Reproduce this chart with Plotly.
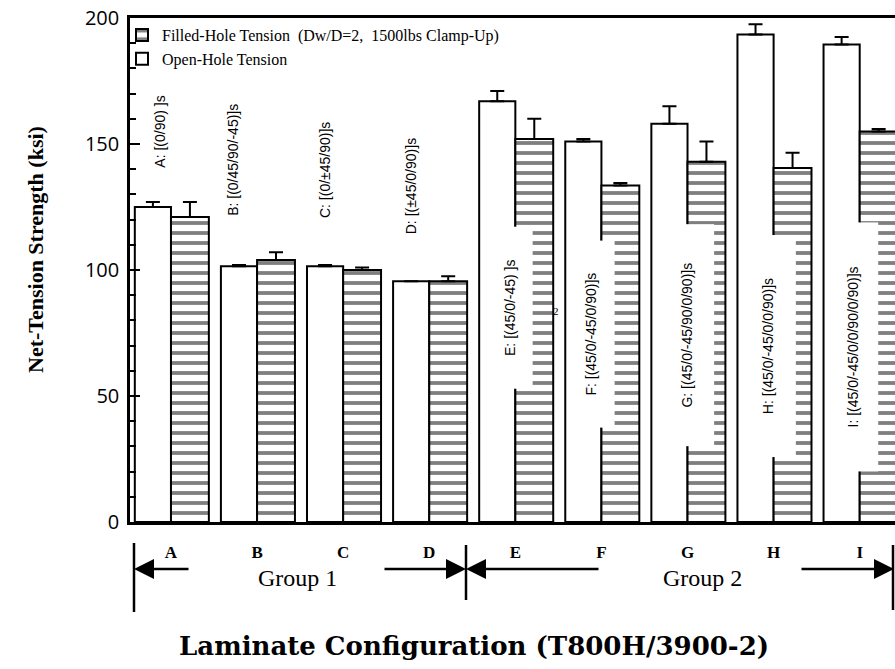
import plotly.graph_objects as go

# ---------------- data ----------------
categories = ["A", "B", "C", "D", "E", "F", "G", "H", "I"]
open_hole = [125, 101.5, 101.5, 95.5, 167, 151, 158, 193.5, 189.5]
open_err = [2, 0.5, 0.5, 0, 4, 1, 7, 4, 3]
filled_hole = [121, 104, 100, 95.5, 152, 133.5, 143, 140.5, 155]
filled_err = [6, 3, 1, 2, 8, 1, 8, 6, 1]
layup_labels = [
    "A: [(0/90) ]s",
    "B: [(0/45/90/-45)]s",
    "C: [(0/±45/90)]s",
    "D: [(±45/0/90)]s",
    "E: [(45/0/-45) ]s",
    "F: [(45/0/-45/0/90)]s",
    "G: [(45/0/-45/90/0/90)]s",
    "H: [(45/0/-45/0/0/90)]s",
    "I: [(45/0/-45/0/0/90/0/90)]s",
]
group_labels = ["Group 1", "Group 2"]

# ---------------- layout helpers ----------------
W, H = 895, 669
L, R, T, B = 130, 0, 18, 147
PW, PH = W - L - R, H - T - B


def px(xp):
    return (xp - L) / PW


def py(yp):
    return (H - B - yp) / PH


x_idx = list(range(len(categories)))
serif = "Liberation Serif"

fig = go.Figure()
fig.add_trace(go.Bar(
    x=x_idx, y=open_hole, name="Open-Hole Tension",
    offset=-0.42, width=0.42,
    marker=dict(color="white", line=dict(color="black", width=2)),
    error_y=dict(type="data", symmetric=False, array=open_err,
                 arrayminus=[0] * len(open_err), color="black",
                 thickness=2, width=7),
))
fig.add_trace(go.Bar(
    x=x_idx, y=filled_hole, name="Filled-Hole Tension  (Dw/D=2,  1500lbs Clamp-Up)",
    offset=0.0, width=0.44,
    marker=dict(color="white", line=dict(color="black", width=2),
                pattern=dict(shape="-", fgcolor="black", bgcolor="white",
                             size=10, solidity=0.38)),
    error_y=dict(type="data", symmetric=False, array=filled_err,
                 arrayminus=[0] * len(filled_err), color="black",
                 thickness=2, width=7),
))

# rotated lay-up labels
lab_dx = [-0.13, -0.28, -0.21, -0.21, -0.06, -0.12, -0.01, -0.06, -0.08]
lab_y = [154.8, 143.7, 139.7, 133.3, 84.9, 74.6, 74.2, 69.8, 69.4]
box_len = [None, None, None, None, 161, 186, 221, 221, 248]
box_wid = [None, None, None, None, 44, 46, 54, 54, 50]
annotations = []
for i, txt in enumerate(layup_labels):
    a = dict(x=x_idx[i] + lab_dx[i], y=lab_y[i], xref="x", yref="y",
             text=txt, showarrow=False, textangle=-90,
             xanchor="center", yanchor="middle",
             font=dict(family="Liberation Sans", size=14, color="black"))
    if box_len[i]:
        a.update(bgcolor="white", width=box_len[i], height=box_wid[i],
                 borderpad=0, align="center", valign="middle")
    annotations.append(a)
# stray subscript from the original scan
annotations.append(dict(x=px(556), y=py(311), xref="paper", yref="paper",
                        text="2", showarrow=False, xanchor="center",
                        yanchor="middle",
                        font=dict(family=serif, size=11, color="black")))

# group labels
for gx, gl in zip([297, 702], group_labels):
    annotations.append(dict(x=px(gx), y=py(578), xref="paper", yref="paper",
                            text=gl, showarrow=False, xanchor="center",
                            yanchor="middle",
                            font=dict(family=serif, size=24, color="black")))

# arrows (head, tail)
for head, tail in [(134, 190), (466, 383), (466, 600), (895, 800)]:
    annotations.append(dict(x=px(head), y=py(569), xref="paper", yref="paper",
                            ax=tail - head, ay=0, text="", showarrow=True,
                            arrowhead=2, arrowsize=1.6, arrowwidth=2.5,
                            arrowcolor="black"))

# axis titles
annotations.append(dict(x=px(474), y=py(646), xref="paper", yref="paper",
                        text="<b>Laminate Configuration (T800H/3900-2)</b>",
                        showarrow=False, xanchor="center", yanchor="middle",
                        font=dict(family="DejaVu Serif", size=26, color="black")))
annotations.append(dict(x=px(35), y=py(250), xref="paper", yref="paper",
                        text="<b>Net-Tension Strength (ksi)</b>", textangle=-90,
                        showarrow=False, xanchor="center", yanchor="middle",
                        font=dict(family=serif, size=22, color="black")))

shapes = []
for xv, y0, y1 in [(134, 543, 612), (466, 545, 600), (893, 545, 610)]:
    shapes.append(dict(type="line", xref="paper", yref="paper",
                       x0=px(xv), x1=px(xv), y0=py(y0), y1=py(y1),
                       line=dict(color="black", width=2.5)))

fig.update_layout(
    width=W, height=H,
    margin=dict(l=L, r=R, t=T, b=B),
    plot_bgcolor="white", paper_bgcolor="white",
    barmode="overlay",
    showlegend=True,
    legend=dict(x=px(122), y=1.0, xanchor="left", yanchor="top",
                traceorder="reversed", bgcolor="rgba(0,0,0,0)",
                font=dict(family=serif, size=16, color="black"),
                tracegroupgap=0, itemwidth=30),
    annotations=annotations,
    shapes=shapes,
    xaxis=dict(range=[-0.476, 8.41], tickvals=x_idx,
               ticktext=["<b>%s</b>" % c for c in categories],
               showline=True, linecolor="black", linewidth=3, mirror=True,
               ticks="", showgrid=False, zeroline=False,
               tickfont=dict(family=serif, size=17, color="black"),
               ticklabelstandoff=13),
    yaxis=dict(range=[0, 200], dtick=50, showline=True, linecolor="black",
               linewidth=2.5, ticks="inside", ticklen=10, tickwidth=2,
               tickcolor="black", showgrid=False, zeroline=False,
               minor=dict(dtick=10, ticks="inside", ticklen=6, tickwidth=1.5,
                          tickcolor="black", showgrid=False),
               tickfont=dict(family="Open Sans", size=20, color="black"),
               ticklabelstandoff=4),
)

fig.write_html("out.html",
               config={"displayModeBar": False},
               post_script="document.body.style.margin='0';"
                           "document.body.style.overflow='hidden';")
